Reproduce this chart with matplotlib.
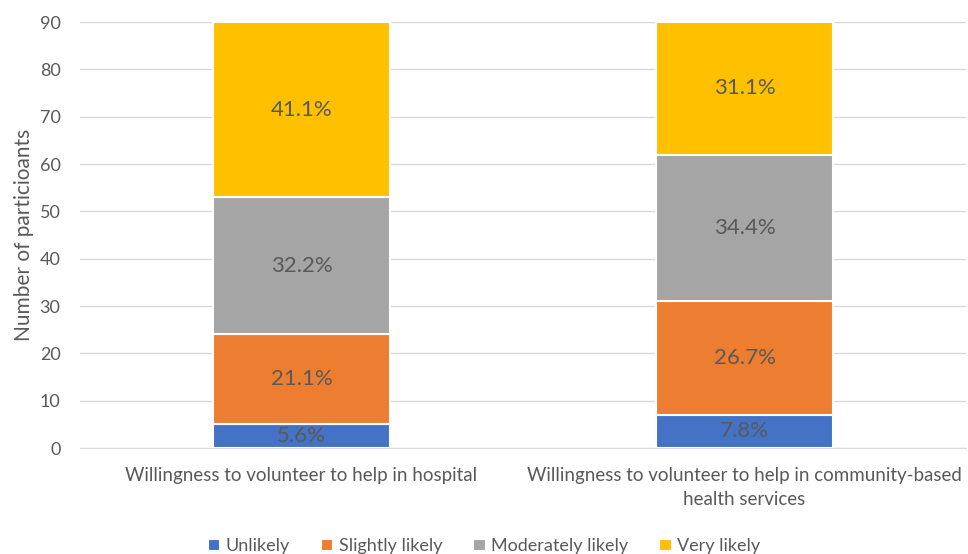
import matplotlib
matplotlib.use("Agg")
import matplotlib.pyplot as plt
import numpy as np

plt.rcParams['font.family'] = ['Lato', 'DejaVu Sans']

categories = ["Willingness to volunteer to help in hospital",
              "Willingness to volunteer to help in community-based\nhealth services"]
series_names = ["Unlikely", "Slightly likely", "Moderately likely", "Very likely"]
counts = {
    "Unlikely": [5, 7],
    "Slightly likely": [19, 24],
    "Moderately likely": [29, 31],
    "Very likely": [37, 28],
}
labels = {
    "Unlikely": ["5.6%", "7.8%"],
    "Slightly likely": ["21.1%", "26.7%"],
    "Moderately likely": ["32.2%", "34.4%"],
    "Very likely": ["41.1%", "31.1%"],
}
colors = ["#4472C4", "#ED7D31", "#A5A5A5", "#FFC000"]
yticks = [0, 10, 20, 30, 40, 50, 60, 70, 80, 90]

fig = plt.figure(figsize=(9.68, 5.54), dpi=100)
ax = fig.add_axes([0.0826, 0.1913, 0.9154, 0.7687])
x = np.arange(len(categories))
bottom = np.zeros(len(categories))
txt = "#595959"
for name, c in zip(series_names, colors):
    vals = np.array(counts[name], dtype=float)
    ax.bar(x, vals, 0.4, bottom=bottom, color=c, edgecolor="white", linewidth=1.5, label=name, zorder=3)
    for xi, v, b, lab in zip(x, vals, bottom, labels[name]):
        ax.text(xi, b + v / 2, lab, ha="center", va="center", fontsize=16, color=txt, zorder=4)
    bottom += vals

ax.set_xlim(-0.5, 1.5)
ax.set_ylim(0, 90)
ax.set_yticks(yticks)
ax.set_xticks(x)
ax.set_xticklabels(categories, fontsize=13.5, color=txt, linespacing=1.45)
ax.tick_params(axis="y", labelsize=13, labelcolor=txt, length=0, pad=14)
ax.tick_params(axis="x", length=0, pad=14)
ax.grid(axis="y", color="#D9D9D9", linewidth=1, zorder=0)
for s in ["top", "right", "left"]:
    ax.spines[s].set_visible(False)
ax.spines["bottom"].set_color("#D9D9D9")
ax.set_ylabel("Number of particioants", fontsize=15, color=txt, labelpad=4)

leg = fig.legend(loc="lower center", bbox_to_anchor=(0.5, -0.03), ncol=4, frameon=False,
                 fontsize=13, handlelength=0.7, handleheight=0.7, handletextpad=0.3, columnspacing=1.7)
for t in leg.get_texts():
    t.set_color(txt)

fig.savefig("out.png", dpi=100)
